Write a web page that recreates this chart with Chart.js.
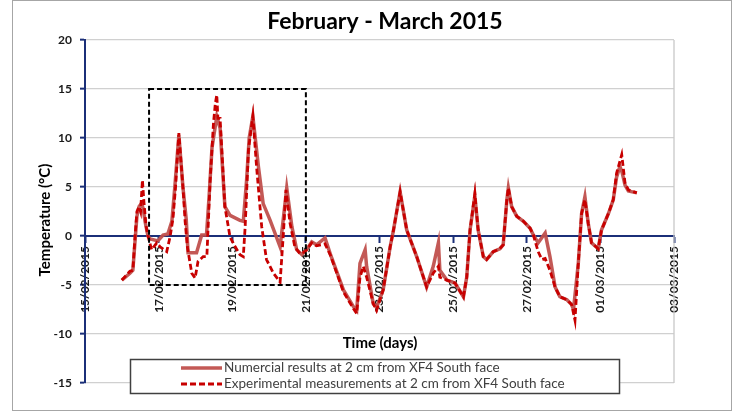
<!DOCTYPE html>
<html><head><meta charset="utf-8">
<script src="https://cdn.jsdelivr.net/npm/chart.js@4.4.1/dist/chart.umd.min.js"></script>
<style>html,body{margin:0;padding:0;background:#fff;}</style>
</head><body>
<canvas id="c" width="739" height="416"></canvas>
<script>
const chartTitle = 'February - March 2015';
const xAxisTitle = 'Time (days)';
const yAxisTitle = 'Temperature (°C)';
const xTickLabels = ['15/02/2015','17/02/2015','19/02/2015','21/02/2015','23/02/2015','25/02/2015','27/02/2015','01/03/2015','03/03/2015'];
const seriesLabels = ['Numercial results at 2 cm from XF4 South face','Experimental measurements at 2 cm from XF4 South face'];

// days since 15/02/2015 00:00
const numDays = [1.00,1.22,1.30,1.36,1.41,1.47,1.53,1.58,1.63,1.71,1.77,1.98,2.12,2.25,2.36,2.44,2.55,2.66,2.75,2.80,3.03,3.17,3.30,3.37,3.45,3.58,3.67,3.80,3.94,4.21,4.30,4.39,4.46,4.56,4.71,4.84,5.03,5.30,5.38,5.48,5.62,5.75,5.89,6.02,6.16,6.29,6.52,6.66,7.02,7.29,7.38,7.47,7.61,7.65,7.83,7.92,8.10,8.29,8.38,8.56,8.74,9.01,9.28,9.46,9.60,9.64,9.83,10.05,10.28,10.37,10.46,10.59,10.68,10.82,10.91,11.09,11.27,11.36,11.46,11.50,11.59,11.73,11.91,12.09,12.18,12.31,12.50,12.63,12.77,12.90,13.09,13.22,13.27,13.40,13.49,13.58,13.67,13.76,13.94,14.03,14.22,14.35,14.44,14.53,14.59,14.67,14.76,14.99];
const numTemps = [-4.5,-3.8,-3.5,-0.5,2.0,3.0,3.3,2.8,1.5,0.0,-0.3,-0.5,0.1,0.2,1.5,5.0,10.3,5.0,1.7,-1.7,-1.7,0.1,0.1,4.0,9.0,12.2,11.0,3.0,2.1,1.6,1.5,5.7,10.0,12.2,7.1,3.3,1.6,-1.1,1.5,4.9,0.95,-1.4,-1.9,-1.4,-0.6,-0.9,-0.2,-1.8,-5.5,-7.2,-7.6,-2.8,-1.4,-3.1,-6.9,-7.3,-5.5,-1.1,0.6,4.5,0.6,-2.1,-5.2,-3.1,-0.7,-3.5,-4.5,-4.8,-6.2,-4.2,0.6,4.1,0.6,-2.1,-2.4,-1.6,-1.3,-0.9,3.7,4.9,3.0,2.0,1.5,0.8,0.1,-0.7,0.3,-2.1,-5.2,-6.2,-6.5,-7.0,-7.5,-2.8,2.3,4.0,1.3,-0.7,-1.3,0.6,2.3,3.7,6.0,7.1,6.5,5.2,4.6,4.4];

const expDays = [1.00,1.22,1.30,1.36,1.41,1.47,1.51,1.56,1.60,1.66,1.71,1.81,1.95,2.04,2.22,2.31,2.39,2.46,2.55,2.66,2.72,2.78,2.90,2.99,3.07,3.21,3.31,3.40,3.49,3.54,3.58,3.61,3.67,3.80,3.94,4.08,4.21,4.30,4.35,4.44,4.56,4.66,4.80,4.93,5.12,5.30,5.39,5.46,5.57,5.70,5.84,5.98,6.16,6.29,6.52,6.66,7.02,7.29,7.38,7.47,7.56,7.65,7.83,7.92,8.10,8.29,8.38,8.56,8.74,9.01,9.28,9.46,9.60,9.64,9.83,10.05,10.28,10.37,10.46,10.59,10.68,10.82,10.91,11.09,11.27,11.36,11.46,11.50,11.59,11.73,11.91,12.09,12.18,12.31,12.41,12.50,12.63,12.77,12.90,13.09,13.22,13.31,13.40,13.49,13.58,13.67,13.76,13.94,14.03,14.22,14.35,14.44,14.58,14.67,14.76,14.99];
const expTemps = [-4.5,-3.6,-3.5,0.0,2.5,3.0,2.5,5.7,3.5,1.0,0.0,-1.4,-0.7,-1.1,-1.6,-0.1,1.8,5.0,10.5,5.0,1.5,-1.1,-3.8,-4.3,-2.6,-2.1,-2.1,5.7,11.5,13.5,14.4,12.0,12.0,3.0,-0.1,-1.1,-1.9,-2.1,0.9,8.8,12.2,7.1,0.95,-2.4,-3.8,-4.7,0.3,4.7,1.3,-1.1,-1.8,-1.6,-0.7,-1.0,-0.8,-1.9,-5.7,-7.4,-7.9,-4.2,-3.1,-4.2,-6.9,-7.6,-5.5,-1.1,0.6,4.5,0.6,-2.1,-5.2,-3.8,-3.1,-4.2,-4.5,-4.8,-6.2,-4.2,0.6,4.3,0.6,-2.1,-2.4,-1.6,-1.3,-0.9,3.7,4.9,3.0,2.0,1.5,0.8,0.1,-1.6,-2.4,-2.3,-3.5,-5.2,-6.2,-6.5,-7.0,-8.6,-2.8,2.3,3.7,1.3,-0.7,-1.3,0.6,2.3,3.7,6.4,8.3,5.4,4.7,4.4];

const highlightDays = [1.74, 6.0];
const highlightTemps = [-5, 15];

const NAVY = '#1b2f78';
const FONT = 'Lato, "Open Sans", sans-serif';

const toPts = (xs, ys) => xs.map((x, i) => ({x: x, y: ys[i]}));

const decor = {
  id: 'decor',
  beforeDraw(chart) {
    const c = chart.ctx;
    c.save();
    c.fillStyle = '#fff';
    c.fillRect(0, 0, chart.width, chart.height);
    c.strokeStyle = '#a6a6a6';
    c.lineWidth = 1;
    c.strokeRect(12.5, 0.5, 719, 410);
    c.restore();
  },
  beforeDatasetsDraw(chart) {
    const c = chart.ctx, a = chart.chartArea;
    c.save();
    c.strokeStyle = '#c8c8c8';
    c.lineWidth = 1.3;
    c.beginPath();
    c.moveTo(a.right, a.top);
    c.lineTo(a.right, a.bottom);
    c.stroke();
    c.restore();
  },
  afterDatasetsDraw(chart) {
    const c = chart.ctx, xs = chart.scales.x, ys = chart.scales.y;
    const x0 = xs.getPixelForValue(highlightDays[0]), x1 = xs.getPixelForValue(highlightDays[1]);
    const y0 = ys.getPixelForValue(highlightTemps[1]), y1 = ys.getPixelForValue(highlightTemps[0]);
    c.save();
    c.strokeStyle = '#000';
    c.lineWidth = 2;
    c.setLineDash([5, 3]);
    c.strokeRect(x0, y0, x1 - x0, y1 - y0);
    c.restore();
  },
  afterDraw(chart) {
    const c = chart.ctx;
    c.save();
    c.fillStyle = '#000';
    c.font = 'bold 23px ' + FONT;
    c.textAlign = 'center';
    c.textBaseline = 'middle';
    c.fillText(chartTitle, 385, 22);
    c.font = 'bold 15px ' + FONT;
    c.fillText(xAxisTitle, 380, 343);
    c.save();
    c.translate(45, 220);
    c.rotate(-Math.PI / 2);
    c.fillText(yAxisTitle, 0, 0);
    c.restore();
    // legend
    c.fillStyle = '#fff';
    c.fillRect(130, 359, 489, 34);
    c.strokeStyle = '#404040';
    c.lineWidth = 1.5;
    c.setLineDash([]);
    c.strokeRect(130.5, 359.5, 489, 34);
    const ds = chart.data.datasets;
    const rows = [368, 384];
    ds.forEach((d, i) => {
      c.save();
      c.strokeStyle = d.borderColor;
      c.lineWidth = d.borderWidth;
      c.setLineDash(d.borderDash || []);
      c.beginPath();
      c.moveTo(181, rows[i]);
      c.lineTo(222, rows[i]);
      c.stroke();
      c.restore();
      c.fillStyle = '#404040';
      c.font = '13.5px ' + FONT;
      c.textAlign = 'left';
      c.textBaseline = 'middle';
      c.fillText(d.label, 224, rows[i]);
    });
    c.restore();
  }
};

new Chart(document.getElementById('c'), {
  type: 'line',
  data: {
    datasets: [
      { label: seriesLabels[0], data: toPts(numDays, numTemps), borderColor: 'rgba(192,80,77,0.95)', borderWidth: 3.5, pointRadius: 0, tension: 0, fill: false, order: 2 },
      { label: seriesLabels[1], data: toPts(expDays, expTemps), borderColor: '#c80000', borderWidth: 2.8, borderDash: [6, 3], pointRadius: 0, tension: 0, fill: false, order: 1 }
    ]
  },
  options: {
    responsive: false,
    animation: false,
    devicePixelRatio: 1,
    layout: { padding: { left: 0, right: 65, top: 40, bottom: 33 } },
    plugins: { legend: { display: false }, title: { display: false }, tooltip: { enabled: false } },
    scales: {
      x: {
        type: 'linear',
        position: { y: 0 },
        min: 0, max: 16,
        grid: { display: true, drawOnChartArea: false, drawTicks: true, tickLength: 6, tickColor: NAVY, tickWidth: 2 },
        border: { display: true, color: NAVY, width: 2 },
        ticks: {
          stepSize: 2, autoSkip: false, maxRotation: 90, minRotation: 90, padding: 4,
          color: '#1a1a1a', font: { family: FONT, size: 12, weight: 'bold' },
          callback: (v, i) => xTickLabels[i]
        }
      },
      y: {
        type: 'linear',
        position: 'left',
        min: -15, max: 20,
        afterFit: (s) => { s.width = 85; },
        grid: {
          color: (ctx) => (ctx.tick && ctx.tick.value === 0) ? 'rgba(0,0,0,0)' : '#d0d0d0',
          lineWidth: 1.3, tickColor: NAVY, tickLength: 5, tickWidth: 2
        },
        border: { display: true, color: NAVY, width: 2 },
        ticks: { stepSize: 5, padding: 8, color: '#1a1a1a', font: { family: FONT, size: 12, weight: 'bold' } }
      }
    }
  },
  plugins: [decor]
});
</script>
</body></html>
